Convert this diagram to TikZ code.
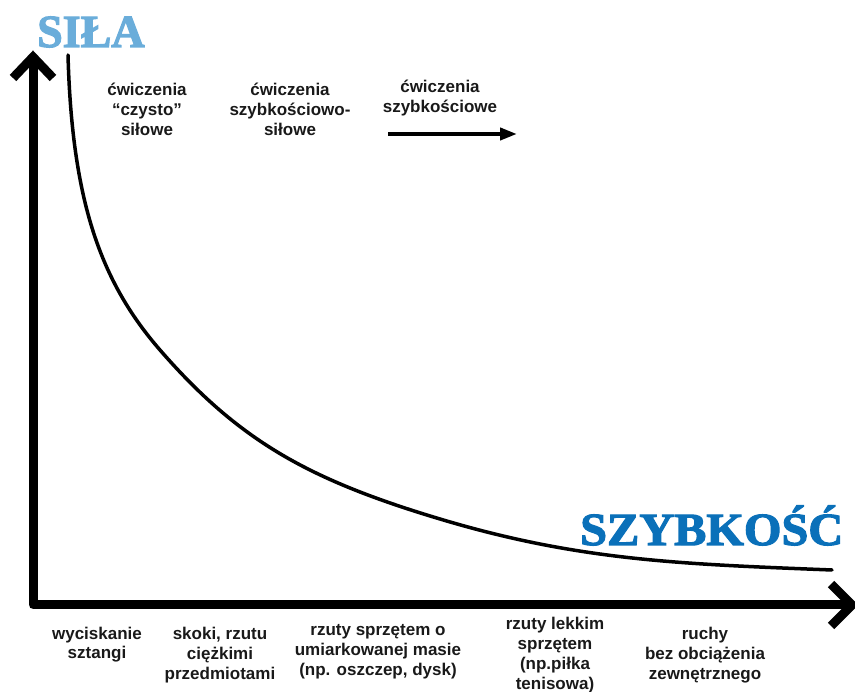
\documentclass[tikz,border=0pt]{standalone}
\usepackage{fontspec}
\usetikzlibrary{arrows.meta}
\newfontfamily\labfont{Liberation Sans}
\newfontfamily\titfont{Liberation Serif}[FakeBold=2.5]
\newfontfamily\titwide{Liberation Serif}[FakeBold=2.5, FakeStretch=1.05]
\definecolor{lightblue}{RGB}{106,173,218}
\definecolor{darkblue}{RGB}{10,112,185}
\definecolor{txt}{RGB}{25,25,25}
\tikzset{
  lab/.style={align=center, inner sep=0pt, text=txt, anchor=base,
    font=\labfont\bfseries\fontsize{17}{20}\selectfont},
  axisline/.style={line width=9pt, line join=round, line cap=butt},
  chevron/.style={line width=9pt, line join=miter, line cap=butt},
  curveline/.style={line width=3.5pt, line cap=round},
  title/.style={inner sep=0pt, anchor=base west, font=\titfont\bfseries\fontsize{46}{46}\selectfont}
}
\begin{document}
\begin{tikzpicture}[x=1pt,y=-1pt]
\useasboundingbox (0,0) rectangle (855,692);
% axes
\coordinate (ytip) at (33,58);
\coordinate (origin) at (33,605);
\coordinate (xtip) at (851,605);
\draw[axisline] (ytip) -- (origin) -- (xtip);
\draw[chevron] (13,78) -- (33,57) -- (53,78);
\draw[chevron] (831,584) -- (852,605) -- (831,626);
% curve
\coordinate (c0) at (68,55);
\coordinate (c1) at (160,350);
\coordinate (c2) at (440,519);
\coordinate (c3) at (832,570);
\draw[curveline] (c0) .. controls (72,200) and (100,281) .. (c1)
  .. controls (240,442) and (310,480) .. (c2)
  .. controls (580,561) and (682,564) .. (c3);
% titles
\node[title, text=lightblue] (sila) at (37,47) {SIŁA};
\node[title, text=darkblue, font=\titwide\bfseries\fontsize{46}{46}\selectfont] (szyb) at (580,545) {SZYBKOŚĆ};
% top labels (anchor = baseline of last line)
\node[lab] (t1) at (147,136) {ćwiczenia\\“czysto”\\siłowe};
\node[lab] (t2) at (290,136) {ćwiczenia\\szybkościowo-\\siłowe};
\node[lab] (t3) at (440,113) {ćwiczenia\\szybkościowe};
\coordinate (arrs) at (388,134);
\coordinate (arre) at (517,134);
\draw[line width=4pt, -{Triangle[length=17pt,width=12pt]}] (arrs) -- (arre);
% bottom labels
\node[lab] (b1) at (97,659) {wyciskanie\\sztangi};
\node[lab] (b2) at (220,679) {skoki, rzutu\\ciężkimi\\przedmiotami};
\node[lab] (b3) at (378,675) {rzuty sprzętem o\\umiarkowanej masie\\(np. oszczep, dysk)};
\node[lab] (b4) at (555,689) {rzuty lekkim\\sprzętem\\(np.piłka\\tenisowa)};
\node[lab] (b5) at (705,679) {ruchy\\bez obciążenia\\zewnętrznego};
\end{tikzpicture}
\end{document}
